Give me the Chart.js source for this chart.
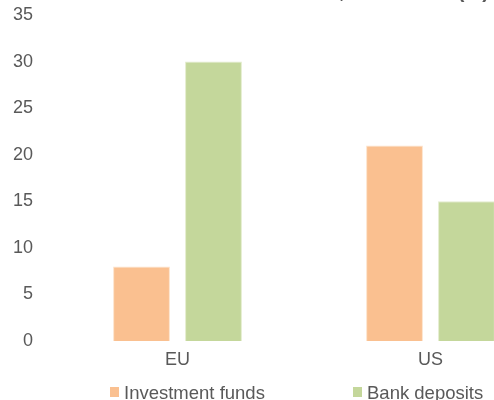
<!DOCTYPE html>
<html>
<head>
<meta charset="utf-8">
<script src="https://cdn.jsdelivr.net/npm/chart.js@4"></script>
<style>
  html, body { margin: 0; padding: 0; background: #fff; overflow: hidden; }
  #wrap { position: absolute; left: 0; top: -40px; }
  #legend { position: absolute; left: 0; top: 0; width: 494px; height: 400px; pointer-events: none;
            font-family: "Liberation Sans", Arial, sans-serif; font-size: 18.5px; color: #595959; }
  .item { position: absolute; top: 383.6px; line-height: 18px; white-space: nowrap; }
  .item i { position: absolute; left: 0; top: 3px; width: 9px; height: 10px; }
  .item span { padding-left: 14px; }
</style>
</head>
<body>
<div id="wrap"><canvas id="chart" width="580" height="430"></canvas></div>
<div id="legend"></div>
<script>
// data
const categories = ['EU', 'US'];
const seriesNames = ['Investment funds', 'Bank deposits'];
const investmentFunds = [8, 21];
const bankDeposits = [30, 15];
const yTicks = [0, 5, 10, 15, 20, 25, 30, 35];

const colors = ['#FAC090', '#C4D79B'];
const edges = ['#FDE3CC', '#E3ECCD'];
const grey = '#595959';

Chart.defaults.font.family = '"Liberation Sans", Arial, sans-serif';
Chart.defaults.font.size = 18;
Chart.defaults.color = grey;

new Chart(document.getElementById('chart').getContext('2d'), {
  type: 'bar',
  data: {
    labels: categories,
    datasets: [investmentFunds, bankDeposits].map((d, i) => ({
      label: seriesNames[i],
      data: d,
      backgroundColor: colors[i],
      borderColor: edges[i],
      borderWidth: 1,
      categoryPercentage: 0.569,
      barPercentage: 0.79
    }))
  },
  options: {
    responsive: false,
    animation: false,
    layout: { padding: { left: 13, right: 23, top: 0, bottom: 11 } },
    plugins: {
      legend: { display: false },
      tooltip: { enabled: false },
      title: {
        display: true,
        text: 'Household financial assets, EU and US (%)',
        color: grey,
        font: { size: 20, weight: 'bold' },
        padding: { top: 20, bottom: 11 }
      }
    },
    scales: {
      x: {
        grid: { display: false, drawTicks: false },
        border: { display: false },
        ticks: { padding: 8 },
        afterFit: s => { s.height = 38; }
      },
      y: {
        min: yTicks[0],
        max: yTicks[yTicks.length - 1],
        grid: { display: false, drawTicks: false },
        border: { display: false },
        ticks: { padding: 18, stepSize: yTicks[1] - yTicks[0] },
        afterFit: s => { s.width = 38; }
      }
    }
  }
});

// legend as html text below the axis
const legendLeft = [110, 353];
const legend = document.getElementById('legend');
seriesNames.forEach((name, i) => {
  const el = document.createElement('div');
  el.className = 'item';
  el.style.left = legendLeft[i] + 'px';
  el.innerHTML = '<i style="background:' + colors[i] + '"></i><span>' + name + '</span>';
  legend.appendChild(el);
});
</script>
</body>
</html>
